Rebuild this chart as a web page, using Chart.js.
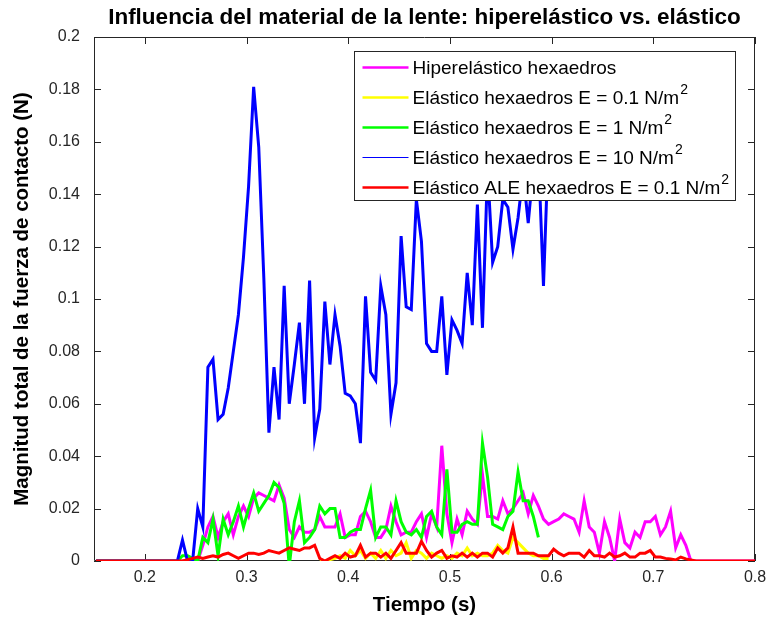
<!DOCTYPE html>
<html>
<head>
<meta charset="utf-8">
<script src="https://cdn.jsdelivr.net/npm/chart.js@4/dist/chart.umd.min.js"></script>
<style>
  body { margin: 0; background: #fff; }
  canvas { display: block; }
</style>
</head>
<body>
<canvas id="grafica" width="766" height="622"></canvas>
<script>
// muestreo de la simulacion (s)
const tInicio = 0.152;
const paso = 0.005;
const inicioE01 = 0.372;

const marcasX = [0.2, 0.3, 0.4, 0.5, 0.6, 0.7, 0.8];
const marcasY = [0, 0.02, 0.04, 0.06, 0.08, 0.1, 0.12, 0.14, 0.16, 0.18, 0.2];

const nombres = [
    "Hiperelástico hexaedros",
    "Elástico hexaedros E = 0.1 N/m²",
    "Elástico hexaedros E = 1 N/m²",
    "Elástico hexaedros E = 10 N/m²",
    "Elástico ALE hexaedros E = 0.1 N/m²"
];
const colores = ["#ff00ff", "#ffff00", "#00ff00", "#0000ff", "#ff0000"];

const hiperelastico = [
    0, 0, 0, 0, 0, 0, 0, 0, 0, 0, 0, 0, 0, 0, 0, 0, 0, 0, 0, 0,
    0, .006, .013, .017, .009, .015, .018, .010, .017, .021, .017, .024, .026, .025, .024, .023, .029, .024,
    .012, .009, .013, .011, .011, .012, .017, .013, .013, .013, .018, .009, .010, .010, .017, .019, .015,
    .009, .009, .012, .021, .015, .010, .011, .011, .015, .018, .009, .018, .013, .044, .018, .007, .016,
    .010, .019, .016, .014, .033, .017, .017, .016, .023, .018, .020, .023, .026, .018, .025, .021, .016,
    .014, .015, .016, .018, .017, .016, .011, .023, .013, .011, .003, .015, .009, 0, .016, .007, .005,
    .011, .009, .015, .015, .017, .010, .013, .019, .005, .010, .006, 0,
    0, 0, 0, 0, 0, 0, 0, 0, 0, 0, 0, 0, 0
];

const elasticoE01 = [
    0, 0, .0005, .001, .002, .001, .004, .002, .004, .001, .003, .001, .004, .001, .004, .002,
    .003, .007, .001, .004, .003, .001, .003, .002, .001, .002, .001, .003, .002, .005, .002, .003,
    .002, .002, .003, .006, .004, .003, .009, .007, .005, .003, .002, .002, .001, .001
];

const elasticoE1 = [
    0, 0, 0, 0, 0, 0, 0, 0, 0, 0, 0, 0, 0, 0, 0, 0,
    0, .002, .002, .001, 0, .009, .007, .016, .002, .016, .010, .015, .021, .013, .020, .026,
    .019, .022, .025, .030, .028, .022, -.002, .015, .023, .007, .009, .012, .021, .018, .020, .020,
    .009, .009, .011, .012, .012, .020, .027, .009, .013, .013, .010, .023, .015, .011, .010, .012,
    .009, .017, .019, .013, .010, .035, .011, .011, .014, .015, .014, .014, .045, .032, .014, .013,
    .012, .017, .019, .034, .023, .023, .017, .009
];

const elasticoE10 = [
    0, 0, 0, 0, 0, 0, 0, 0, 0, 0, 0, 0, 0, 0, 0, 0, 0,
    .008, 0, 0, .020, .013, .074, .077, .054, .056, .066, .080, .094, .116, .143, .181, .158,
    .108, .049, .074, .054, .105, .060, .075, .091, .060, .107, .047, .058, .099, .075, .094, .082,
    .064, .063, .060, .045, .101, .072, .069, .105, .094, .056, .068, .124, .097, .096, .138, .122,
    .083, .080, .080, .101, .071, .092, .088, .083, .110, .090, .136, .089, .150, .114, .120, .138,
    .135, .119, .131, .148, .129, .150, .155, .105, .160
];

const aleE01 = [
    0, 0, 0, 0, 0, 0, 0, 0, 0, 0, 0, 0, 0, 0, 0, 0, 0, 0,
    .0005, .001, .0015, .001, .0015, .002, .0015, .0025, .003, .002,
    .001, .002, .003, .003, .0025, .003, .004, .0035, .003, .004,
    .005, .0045, .004, .005, .005, .006, .001, 0, .001, .002,
    .001, .003, .0015, .002, .006, .0015, .003, .003, .0015, .003,
    .001, .004, .007, .003, .003, .003, .0075, .004, .0015, .003,
    .004, .001, .002, .0015, .003, .0015, .003, .0015, .003, .003,
    .0015, .005, .003, .005, .013, .003, .003, .003, .003, .002,
    .002, .002, .0045, .003, .002, .003, .003, .003, .0015, .004,
    .002, .002, .0015, .003, .0015, .002, .003, .0015, .0015, .003,
    .003, .004, .0015, .0015, .001, .0008, .0004, .0015, .0008, .0004,
    0, 0, 0, 0, 0, 0, 0, 0, 0, 0, 0, 0, 0
];

function serie(valores, inicio) {
    return valores.map((v, i) => ({ x: inicio + i * paso, y: v }));
}

const fuente = '"Liberation Sans", Arial, sans-serif';
const gris = "#262626";

// caja de ejes al estilo MATLAB, marcas hacia dentro
const marcoEjes = {
    id: "marcoEjes",
    beforeDatasetsDraw(chart) {
        const { ctx, chartArea: a, scales } = chart;
        const L = 7;
        ctx.save();
        ctx.strokeStyle = gris;
        ctx.lineWidth = 1;
        ctx.beginPath();
        ctx.rect(a.left + 0.5, a.top + 0.5, a.width - 1, a.height - 1);
        scales.x.ticks.forEach(t => {
            const px = Math.round(scales.x.getPixelForValue(t.value)) + 0.5;
            ctx.moveTo(px, a.bottom); ctx.lineTo(px, a.bottom - L);
            ctx.moveTo(px, a.top); ctx.lineTo(px, a.top + L);
        });
        scales.y.ticks.forEach(t => {
            const py = Math.round(scales.y.getPixelForValue(t.value)) + 0.5;
            ctx.moveTo(a.left, py); ctx.lineTo(a.left + L, py);
            ctx.moveTo(a.right, py); ctx.lineTo(a.right - L, py);
        });
        ctx.stroke();
        ctx.restore();
    }
};

// grosor de las muestras de la leyenda
const anchosLeyenda = [2.5, 2.5, 2.5, 1, 2.5];

// leyenda dentro del area de trazado, tapa las curvas
const leyenda = {
    id: "leyenda",
    afterDatasetsDraw(chart) {
        const { ctx, chartArea: a } = chart;
        const tam = 19, tamSup = 14;
        ctx.save();
        const partes = chart.data.datasets.map(d => {
            const sup = d.label.endsWith("²");
            return { txt: sup ? d.label.slice(0, -1) : d.label, sup: sup, color: d.borderColor };
        });
        let maxW = 0;
        partes.forEach(p => {
            ctx.font = tam + "px " + fuente;
            let w = ctx.measureText(p.txt).width;
            if (p.sup) { ctx.font = tamSup + "px " + fuente; w += ctx.measureText("2").width + 1; }
            maxW = Math.max(maxW, w);
        });
        const filaH = 30;
        const w = Math.round(58 + maxW + 6);
        const h = 16 + filaH * 4 + 13;
        const x0 = Math.round(a.right - 20 - w) + 0.5;
        const y0 = Math.round(a.top + 14) + 0.5;
        ctx.fillStyle = "#fff";
        ctx.fillRect(x0, y0, w, h);
        ctx.strokeStyle = gris;
        ctx.lineWidth = 1;
        ctx.strokeRect(x0, y0, w, h);
        partes.forEach((p, i) => {
            const yc = y0 + 16 + i * filaH;
            ctx.strokeStyle = p.color;
            ctx.lineWidth = anchosLeyenda[i];
            ctx.beginPath();
            ctx.moveTo(x0 + 8, yc);
            ctx.lineTo(x0 + 54, yc);
            ctx.stroke();
            ctx.fillStyle = "#000";
            ctx.textBaseline = "middle";
            ctx.font = tam + "px " + fuente;
            ctx.fillText(p.txt, x0 + 58, yc + 1);
            if (p.sup) {
                const tw = ctx.measureText(p.txt).width;
                ctx.font = tamSup + "px " + fuente;
                ctx.fillText("2", x0 + 58 + tw + 1, yc - 7);
            }
        });
        ctx.restore();
    }
};

const ordenDibujo = [5, 4, 3, 2, 1];
const datos = [
    serie(hiperelastico, tInicio),
    serie(elasticoE01, inicioE01),
    serie(elasticoE1, tInicio),
    serie(elasticoE10, tInicio),
    serie(aleE01, tInicio)
];

function formato(v) {
    return String(Number(v.toFixed(2)));
}

new Chart(document.getElementById("grafica").getContext("2d"), {
    type: "line",
    data: {
        datasets: datos.map((d, i) => ({
            label: nombres[i],
            data: d,
            borderColor: colores[i],
            backgroundColor: colores[i],
            borderWidth: 3,
            pointRadius: 0,
            tension: 0,
            fill: false,
            order: ordenDibujo[i]
        }))
    },
    options: {
        responsive: false,
        animation: false,
        devicePixelRatio: 1,
        layout: { padding: { left: 0, right: 11, top: 0, bottom: 0 } },
        plugins: {
            legend: { display: false },
            tooltip: { enabled: false },
            title: {
                display: true,
                fullSize: false,
                text: "Influencia del material de la lente: hiperelástico vs. elástico",
                color: "#000",
                font: { family: fuente, size: 22.5, weight: "bold" },
                padding: { top: 4.5, bottom: 5.5 }
            }
        },
        scales: {
            x: {
                type: "linear",
                min: 0.15,
                max: 0.8,
                grid: { display: false, drawTicks: false },
                border: { display: false },
                afterBuildTicks: s => { s.ticks = marcasX.map(v => ({ value: v })); },
                afterFit: s => { s.height = 61; s.paddingRight = 0; s.paddingLeft = 0; },
                ticks: {
                    color: gris,
                    padding: 7,
                    font: { family: fuente, size: 16 },
                    callback: v => formato(v)
                },
                title: {
                    display: true,
                    text: "Tiempo (s)",
                    color: "#000",
                    font: { family: fuente, size: 20.5, weight: "bold" },
                    padding: { top: 0, bottom: 4 }
                }
            },
            y: {
                min: 0,
                max: 0.2,
                grid: { display: false, drawTicks: false },
                border: { display: false },
                afterBuildTicks: s => { s.ticks = marcasY.map(v => ({ value: v })); },
                afterFit: s => { s.width = 94; s.paddingTop = 0; s.paddingBottom = 0; },
                ticks: {
                    color: gris,
                    padding: 14,
                    font: { family: fuente, size: 16 },
                    callback: v => formato(v)
                },
                title: {
                    display: true,
                    text: "Magnitud total de la fuerza de contacto (N)",
                    color: "#000",
                    font: { family: fuente, size: 20.5, weight: "bold" },
                    padding: { top: 10, bottom: 0 }
                }
            }
        }
    },
    plugins: [marcoEjes, leyenda]
});
</script>
</body>
</html>
